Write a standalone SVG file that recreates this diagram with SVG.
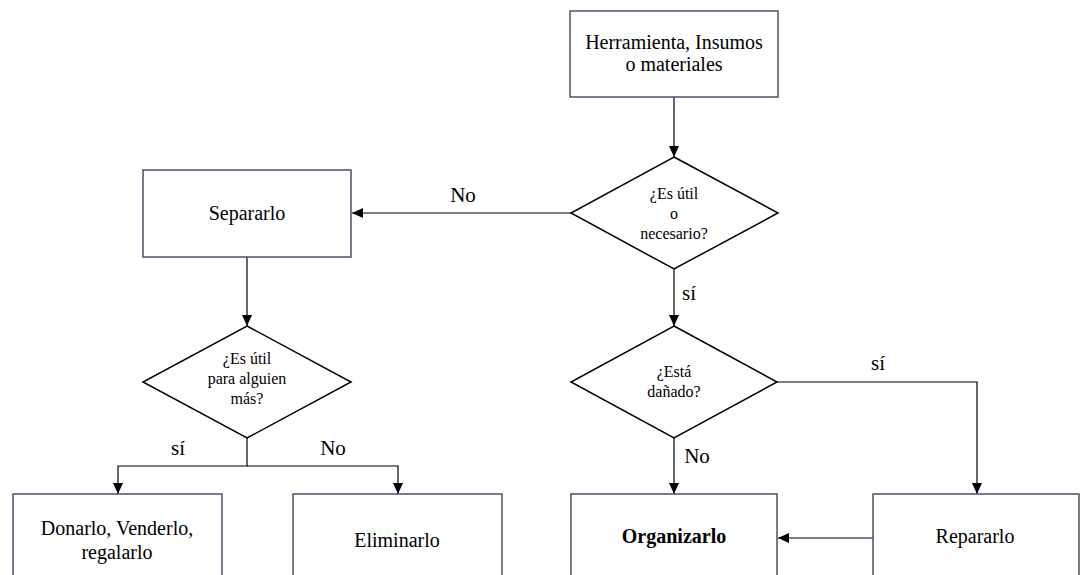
<svg xmlns="http://www.w3.org/2000/svg" width="1086" height="575" viewBox="0 0 1086 575">
<style>
.box{fill:#ffffff;stroke:#44546a;stroke-width:1.5}
.dia{fill:#ffffff;stroke:#000000;stroke-width:1.5}
.c{fill:none;stroke:#000;stroke-width:1.2}
</style>
<defs>
<marker id="ah" markerWidth="12" markerHeight="12" refX="11" refY="6" orient="auto" markerUnits="userSpaceOnUse">
<path d="M0,1 L11,6 L0,11 Z" fill="#000"/>
</marker>
</defs>
<rect width="1086" height="575" fill="#ffffff"/>
<g id="connectors">
<path class="c" d="M674,97 V157" marker-end="url(#ah)"/>
<path class="c" d="M571,213 H352" marker-end="url(#ah)"/>
<path class="c" d="M674,269 V326" marker-end="url(#ah)"/>
<path class="c" d="M247,257 V326" marker-end="url(#ah)"/>
<path class="c" d="M247,438 V466 H118 V494" marker-end="url(#ah)"/>
<path class="c" d="M247,466 H398 V494" marker-end="url(#ah)"/>
<path class="c" d="M674,438 V494" marker-end="url(#ah)"/>
<path class="c" d="M777,382 H977 V494" marker-end="url(#ah)"/>
<path class="c" d="M873,538 H778" marker-end="url(#ah)"/>
</g>
<g id="labels" font-family="Liberation Serif" font-size="21" text-anchor="middle">
<text x="463" y="202" font-family="Liberation Serif">No</text>
<text x="689" y="300" font-family="Liberation Serif">sí</text>
<text x="878" y="370" font-family="Liberation Serif">sí</text>
<text x="697" y="463" font-family="Liberation Serif">No</text>
<text x="178" y="455" font-family="Liberation Serif">sí</text>
<text x="333" y="455" font-family="Liberation Serif">No</text>
</g>
<g id="n-herramienta" font-family="Liberation Serif" font-size="20" text-anchor="middle">
<rect class="box" x="570" y="11" width="208" height="86"/>
<text x="674" y="49" font-family="Liberation Serif">Herramienta, Insumos</text>
<text x="674" y="71" font-family="Liberation Serif">o materiales</text>
</g>
<g id="n-util" font-family="Liberation Serif" font-size="16" text-anchor="middle">
<polygon class="dia" points="674,157 778,213 674,269 571,213"/>
<text x="674" y="199" font-family="Liberation Serif">¿Es útil</text>
<text x="674" y="219" font-family="Liberation Serif">o</text>
<text x="674" y="239" font-family="Liberation Serif">necesario?</text>
</g>
<g id="n-separarlo" font-family="Liberation Serif" font-size="20" text-anchor="middle">
<rect class="box" x="143" y="170" width="208" height="87"/>
<text x="247" y="220" font-family="Liberation Serif">Separarlo</text>
</g>
<g id="n-alguien" font-family="Liberation Serif" font-size="16" text-anchor="middle">
<polygon class="dia" points="247,326 351,382 247,438 143,382"/>
<text x="247" y="364" font-family="Liberation Serif">¿Es útil</text>
<text x="247" y="384" font-family="Liberation Serif">para alguien</text>
<text x="247" y="404" font-family="Liberation Serif">más?</text>
</g>
<g id="n-danado" font-family="Liberation Serif" font-size="16" text-anchor="middle">
<polygon class="dia" points="674,326 777,382 674,438 571,382"/>
<text x="674" y="377" font-family="Liberation Serif">¿Está</text>
<text x="674" y="397" font-family="Liberation Serif">dañado?</text>
</g>
<g id="n-donarlo" font-family="Liberation Serif" font-size="20" text-anchor="middle">
<rect class="box" x="13" y="494" width="209" height="90"/>
<text x="117" y="535" font-family="Liberation Serif">Donarlo, Venderlo,</text>
<text x="117" y="559" font-family="Liberation Serif">regalarlo</text>
</g>
<g id="n-eliminarlo" font-family="Liberation Serif" font-size="20" text-anchor="middle">
<rect class="box" x="293" y="494" width="209" height="90"/>
<text x="397" y="547" font-family="Liberation Serif">Eliminarlo</text>
</g>
<g id="n-organizarlo" font-family="Liberation Serif" font-size="20" text-anchor="middle">
<rect class="box" x="571" y="494" width="206" height="90"/>
<text x="674" y="543" font-family="Liberation Serif" font-weight="bold">Organizarlo</text>
</g>
<g id="n-repararlo" font-family="Liberation Serif" font-size="20" text-anchor="middle">
<rect class="box" x="873" y="494" width="206" height="90"/>
<text x="975" y="543" font-family="Liberation Serif">Repararlo</text>
</g>
</svg>
